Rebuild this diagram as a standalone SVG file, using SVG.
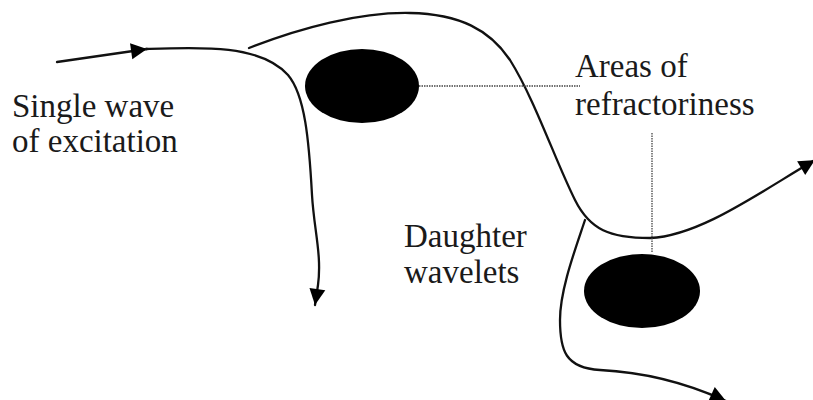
<svg xmlns="http://www.w3.org/2000/svg" width="813" height="400" viewBox="0 0 813 400">
<defs>
<marker id="arr" markerUnits="userSpaceOnUse" markerWidth="18" markerHeight="16" refX="16" refY="8" orient="auto" overflow="visible">
<path d="M0,0 L16,8 L0,16 z" fill="#000"/>
</marker>
<style>
.wave{fill:none;stroke:#111;stroke-width:2.3;stroke-linecap:round}
.dot{fill:none;stroke:#444;stroke-width:1.3;stroke-dasharray:1.5 1}
.lbl{font-family:"Liberation Serif","Times New Roman",serif;font-size:33px;fill:#1a1a1a}
.blob{fill:#000}
</style>
</defs>
<rect width="813" height="400" fill="#fff"/>
<g id="refractory1"><ellipse class="blob" cx="362" cy="86" rx="57" ry="37"/></g>
<g id="refractory2"><ellipse class="blob" cx="642" cy="291" rx="58" ry="37"/></g>
<g id="connectors">
<path class="wave" d="M57,62 L147,49" marker-end="url(#arr)"/>
<path class="wave" d="M146,49 C200,47 260,44 288,75 C305,95 309,140 312,195 C314,230 322,255 318,285 L315,305" marker-end="url(#arr)"/>
<path class="wave" d="M249,48 C300,28 360,12 410,13 C460,14 490,30 510,60 C535,100 555,160 575,200 C590,230 610,238 650,238 C700,236 760,192 815,160" marker-end="url(#arr)"/>
<path class="wave" d="M585,220 C575,250 560,290 560,320 C560,350 565,368 600,370 C640,372 680,380 726,401" marker-end="url(#arr)"/>
<path class="dot" d="M419,86 L580,86"/>
<path class="dot" d="M652,133 L652,252"/>
</g>
<g id="label-single"><text class="lbl" x="12" y="117">Single wave</text><text class="lbl" x="12" y="152">of excitation</text></g>
<g id="label-areas"><text class="lbl" x="575" y="77">Areas of</text><text class="lbl" x="575" y="115">refractoriness</text></g>
<g id="label-daughter"><text class="lbl" x="404" y="247">Daughter</text><text class="lbl" x="404" y="283">wavelets</text></g>
</svg>
